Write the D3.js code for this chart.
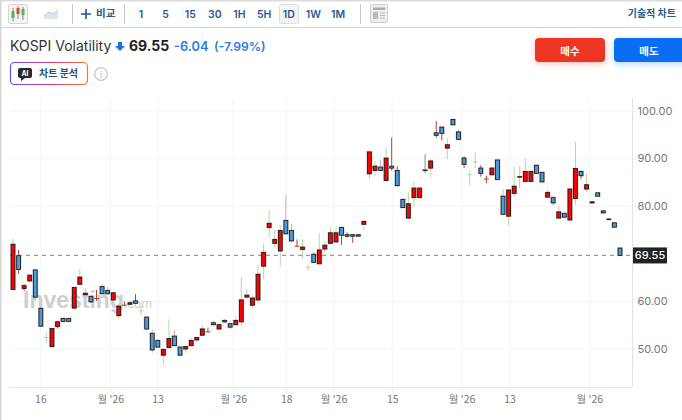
<!DOCTYPE html>
<html>
<head>
<meta charset="utf-8">
<script src="https://cdn.jsdelivr.net/npm/d3@7/dist/d3.min.js"></script>
<style>
body { margin: 0; background: #fff; overflow: hidden; }
text { font-family: "Inter", "Noto Sans CJK KR", sans-serif; }
.kr { font-family: "Noto Sans CJK KR", sans-serif; }
</style>
</head>
<body>
<div id="chart"></div>
<script>
var openVals = [
  62.4,69.5,62.6,64.2,66.5,58.4,52.3,50.4,54.6,56.3,
  56.3,58.5,63.5,61.3,60.9,60.5,63.0,62.2,60.2,56.9,
  59.1,59.3,60.0,57.9,56.6,53.2,51.7,48.6,50.2,52.6,
  50.3,49.9,50.6,51.8,52.8,53.5,55.4,54.1,55.9,55.2,
  55.0,55.6,60.8,59.1,60.2,67.3,75.4,72.1,70.5,76.9,
  74.8,71.5,70.8,67.1,69.8,67.8,70.9,72.1,72.4,75.4,
  73.9,73.9,73.9,76.1,86.7,87.4,88.1,85.3,88.3,87.4,
  81.3,77.4,81.7,81.7,87.4,87.9,95.3,96.5,92.1,98.1,
  95.5,90.0,86.5,89.2,87.9,85.6,86.5,89.6,82.0,77.8,
  82.6,86.0,85.1,85.1,88.5,87.0,81.8,81.7,77.4,78.4,
  77.0,81.5,87.2,83.5,80.6,82.7,78.9,77.1,76.4,71.1];
var closeVals = [
  71.9,66.6,63.2,65.4,60.8,54.7,52.3,54.2,55.6,55.7,
  55.7,62.8,65.0,61.6,59.8,60.5,61.5,61.5,61.7,58.9,
  59.1,59.6,59.5,57.9,54.1,49.7,50.3,49.8,52.1,50.6,
  48.6,50.4,51.7,52.3,54.1,53.5,55.0,55.0,55.6,54.5,
  55.9,60.2,61.2,60.6,65.6,70.2,76.3,72.9,74.8,74.1,
  72.6,71.5,71.3,67.1,68.1,70.7,71.7,74.3,74.3,73.8,
  73.6,73.6,73.6,76.7,91.3,88.3,87.4,90.0,87.9,84.2,
  79.6,80.4,83.7,83.7,87.5,89.4,94.8,95.2,92.8,97.0,
  93.9,88.7,86.5,89.2,86.8,85.6,87.9,85.5,78.2,83.3,
  84.1,86.1,87.2,87.2,86.8,85.0,82.8,80.6,78.7,77.6,
  83.5,87.8,86.3,84.4,80.8,82.0,78.5,77.2,75.5,69.55];
var highVals = [
  73.0,70.7,63.5,65.5,66.8,58.6,53.3,54.2,55.8,56.5,
  56.3,63.0,66.7,62.7,61.2,62.3,63.5,62.9,61.9,59.5,
  59.9,59.8,61.4,58.9,56.6,54.0,51.9,50.1,56.1,53.9,
  50.4,50.5,52.3,52.4,54.9,54.4,55.7,55.2,56.1,55.4,
  56.7,65.0,62.5,61.0,67.6,72.1,79.1,75.0,75.9,82.2,
  76.2,72.9,73.0,67.6,70.3,74.2,72.6,75.5,75.3,75.6,
  74.4,74.0,73.9,76.9,91.3,89.3,89.5,92.1,94.3,88.3,
  81.5,82.8,85.1,83.7,90.8,89.7,97.8,96.6,94.2,98.1,
  95.8,90.4,87.4,91.2,88.5,86.3,88.3,89.6,83.4,83.4,
  88.1,88.3,89.9,87.2,88.5,87.0,83.4,81.9,80.1,78.4,
  83.5,93.4,87.4,86.7,80.9,82.7,79.1,77.3,76.4,71.1];
var lowVals = [
  62.4,65.7,62.1,64.1,60.0,54.6,51.2,50.4,54.2,55.6,
  55.7,58.1,63.3,61.2,59.6,60.0,61.4,61.4,60.0,56.3,
  58.9,59.1,59.4,57.0,54.1,49.1,50.1,46.6,50.1,50.5,
  48.4,49.1,50.5,51.4,52.6,53.4,54.9,54.0,55.4,54.2,
  54.9,54.8,60.6,58.5,60.1,64.5,73.5,71.0,67.2,74.0,
  72.4,71.3,68.8,66.4,68.0,67.8,70.1,72.0,72.3,71.8,
  73.3,72.2,73.6,74.9,85.6,86.2,87.3,85.3,87.4,84.1,
  79.5,77.2,79.7,81.7,86.8,86.1,94.3,93.7,89.8,97.0,
  93.8,87.9,84.2,87.9,86.1,84.7,86.4,85.5,78.1,75.9,
  81.9,83.7,85.0,85.1,86.8,85.0,81.7,80.2,77.4,77.6,
  77.0,80.2,85.6,82.9,80.5,82.0,78.4,76.9,75.5,69.55];
// g = pale green wick, p = pale red, d = dark red, k = grey
var wickKinds = [
  "g","d","d","p","p","d","g","g","d","p",
  "p","g","g","g","d","d","p","p","p","g",
  "d","d","d","g","d","p","g","g","g","p",
  "p","g","g","g","g","d","d","d","d","d",
  "g","g","g","g","g","g","g","g","g","p",
  "p","d","g","g","p","g","g","g","g","d",
  "d","d","d","g","g","g","p","g","d","d",
  "d","g","g","g","k","g","d","d","g","d",
  "d","d","g","g","d","d","g","d","p","g",
  "g","p","g","g","d","d","g","d","g","g",
  "g","g","d","g","d","d","d","d","d","d"];
// 70.00 is covered by the last price tag in the original
var yTicks = [50, 60, 80, 90, 100];
var lastPrice = 69.55;
var xTickPos = [4.92, 17.49, 25.94, 39.55, 49.07, 57.54, 68.1, 80.56, 89.17, 103.5];
var xTickLabels = ["16", "월 '26", "13", "월 '26", "18", "월 '26", "15", "월 '26", "13", "월 '26"];
var intervals = ["1", "5", "15", "30", "1H", "5H", "1D", "1W", "1M"];

var wickColor = { g: "#b4d8a6", p: "#e8a99c", d: "#b8402c", k: "#8a8a8a" };
var width = 682, height = 420;
var plotLeft = 10, plotRight = 632, plotTop = 98, plotBottom = 387;

var svg = d3.select("#chart").append("svg")
    .attr("width", width)
    .attr("height", height)
    .style("display", "block");

var x = d3.scaleLinear().domain([0, 109]).range([13, 620]);
var y = d3.scaleLinear().domain([50, 100]).range([348.5, 110.5]);

// page frame and toolbar
svg.append("rect").attr("x", 0).attr("y", 0).attr("width", 1.5).attr("height", height).attr("fill", "#d4d4d4");
svg.append("rect").attr("x", 0).attr("y", 0).attr("width", width).attr("height", 1.5).attr("fill", "#dcdcdc");
svg.append("rect").attr("x", 0).attr("y", 27).attr("width", width).attr("height", 1.2).attr("fill", "#d8d8d8");

var bar = svg.append("g");
bar.append("rect").attr("x", 8.5).attr("y", 4.5).attr("width", 19).attr("height", 19).attr("rx", 2)
    .attr("fill", "#f3f3f3").attr("stroke", "#d5d5d5");
[[13, 8, 21, 11, 18, "#63b04f"], [18, 6, 19, 8, 14, "#e0443a"], [23, 7, 20, 9, 15, "#63b04f"]].forEach(function (c) {
    bar.append("line").attr("x1", c[0]).attr("x2", c[0]).attr("y1", c[1]).attr("y2", c[2]).attr("stroke", "#888");
    bar.append("rect").attr("x", c[0] - 1.5).attr("y", c[3]).attr("width", 3).attr("height", c[4] - c[3]).attr("fill", c[5]);
});
bar.append("path").attr("d", "M44 19 L44 16 L49 12 L53 14 L58 10 L58 19 Z").attr("fill", "#dbe5ef");
bar.append("path").attr("d", "M44 16 L49 12 L53 14 L58 10").attr("fill", "none").attr("stroke", "#b8c8d8");

[72.5, 124.5, 360.5].forEach(function (sx) {
    bar.append("line").attr("x1", sx).attr("x2", sx).attr("y1", 4).attr("y2", 24).attr("stroke", "#c8c8c8");
});
bar.append("path").attr("d", "M81 14 H91 M86 9 V19").attr("stroke", "#1f5a93").attr("stroke-width", 1.6);
bar.append("text").attr("class", "kr").attr("x", 96).attr("y", 17).attr("font-size", 10.5).attr("font-weight", 700)
    .attr("fill", "#2a5b8c").text("비교");

var intervalX = d3.scalePoint().domain(intervals).range([141, 338]);
bar.append("rect").attr("x", 279.5).attr("y", 4.5).attr("width", 19).attr("height", 19).attr("rx", 2)
    .attr("fill", "#f5f5f5").attr("stroke", "#dcdcdc");
bar.selectAll(".iv").data(intervals).enter().append("text")
    .attr("class", "iv")
    .attr("x", function (d) { return intervalX(d); })
    .attr("y", 18)
    .attr("text-anchor", "middle")
    .attr("font-size", 10.5)
    .attr("font-weight", 600)
    .attr("fill", "#2a5b8c")
    .text(function (d) { return d; });

bar.append("rect").attr("x", 370.5).attr("y", 4.5).attr("width", 17).attr("height", 18).attr("rx", 1.5)
    .attr("fill", "#eee").attr("stroke", "#d0d0d0");
bar.append("rect").attr("x", 373).attr("y", 7.5).attr("width", 12).attr("height", 2.5).attr("fill", "#aaa");
bar.append("rect").attr("x", 373).attr("y", 12).attr("width", 5).attr("height", 7).attr("fill", "#bbb");
bar.append("path").attr("d", "M380 13 H385 M380 15.5 H385 M380 18 H385").attr("stroke", "#bbb");
bar.append("text").attr("class", "kr").attr("x", 676).attr("y", 17).attr("text-anchor", "end").attr("font-size", 10)
    .attr("font-weight", 700).attr("fill", "#2a5b8c").text("기술적 차트");

// title row
var head = svg.append("g");
head.append("text").attr("x", 10).attr("y", 51).attr("font-size", 14).attr("fill", "#333").text("KOSPI Volatility");
head.append("path").attr("d", "M118 42 H122 V46 H125 L120 51 L115 46 H118 Z").attr("fill", "#1f6fd6");
head.append("text").attr("x", 129).attr("y", 51).attr("font-size", 14).attr("font-weight", 700).attr("fill", "#222").text("69.55");
head.append("text").attr("x", 174).attr("y", 51).attr("font-size", 12.8).attr("font-weight", 600).attr("fill", "#2b7be0").text("-6.04");
head.append("text").attr("x", 214).attr("y", 51).attr("font-size", 12.2).attr("font-weight", 600).attr("fill", "#2b7be0").text("(-7.99%)");

var defs = svg.append("defs");
var grad = defs.append("linearGradient").attr("id", "aiGrad").attr("x1", "0%").attr("x2", "100%");
grad.append("stop").attr("offset", "0%").attr("stop-color", "#6a4cf5");
grad.append("stop").attr("offset", "55%").attr("stop-color", "#d63a8a");
grad.append("stop").attr("offset", "100%").attr("stop-color", "#f57a1a");
var shadow = defs.append("filter").attr("id", "btnShadow").attr("x", "-20%").attr("y", "-40%").attr("width", "140%").attr("height", "200%");
shadow.append("feGaussianBlur").attr("stdDeviation", 3);

head.append("rect").attr("x", 10.5).attr("y", 62.5).attr("width", 77).attr("height", 22).attr("rx", 4)
    .attr("fill", "#fff").attr("stroke", "url(#aiGrad)").attr("stroke-width", 1.2);
head.append("path").attr("d", "M20 68 H30 Q32 68 32 70 V76 Q32 78 30 78 H25 L21 81 V78 H20 Q18 78 18 76 V70 Q18 68 20 68 Z").attr("fill", "#2a2a2a");
head.append("text").attr("x", 25).attr("y", 76).attr("text-anchor", "middle").attr("font-size", 7).attr("font-weight", 700).attr("fill", "#fff").text("AI");
head.append("text").attr("class", "kr").attr("x", 39).attr("y", 77).attr("font-size", 10).attr("font-weight", 700).attr("fill", "#25507e").text("차트 분석");
head.append("circle").attr("cx", 101).attr("cy", 74).attr("r", 6.3).attr("fill", "#fff").attr("stroke", "#c4c4c4").attr("stroke-width", 1.2);
head.append("text").attr("x", 101).attr("y", 77.5).attr("text-anchor", "middle").attr("font-size", 9).attr("fill", "#b5b5b5").text("i");

[[535, 70, "#ee3524", "매수"], [614, 74, "#0a6ef5", "매도"]].forEach(function (b) {
    head.append("rect").attr("x", b[0]).attr("y", 40).attr("width", b[1]).attr("height", 24).attr("rx", 4)
        .attr("fill", b[2]).attr("opacity", 0.3).attr("filter", "url(#btnShadow)");
    head.append("rect").attr("x", b[0]).attr("y", 38).attr("width", b[1]).attr("height", 24).attr("rx", 4).attr("fill", b[2]);
    head.append("text").attr("class", "kr").attr("x", b[0] + 35).attr("y", 54.5).attr("text-anchor", "middle")
        .attr("font-size", 10.5).attr("font-weight", 700).attr("fill", "#fff").text(b[3]);
});

// grid
var grid = svg.append("g");
grid.selectAll(".gh").data(yTicks).enter().append("line")
    .attr("x1", plotLeft).attr("x2", plotRight)
    .attr("y1", function (d) { return y(d) + 0.5; })
    .attr("y2", function (d) { return y(d) + 0.5; })
    .attr("stroke", "#f3f4f6");
grid.selectAll(".gv").data(xTickPos).enter().append("line")
    .attr("x1", function (d) { return x(d); })
    .attr("x2", function (d) { return x(d); })
    .attr("y1", plotTop).attr("y2", plotBottom)
    .attr("stroke", "#f3f4f6");

// watermark sits under the candles
var mark = svg.append("text").attr("x", 23).attr("y", 308).attr("fill", "#cfcfcf");
mark.append("tspan").attr("font-family", "Liberation Sans").attr("font-size", 23).attr("font-weight", 700).text("Investing");
mark.append("tspan").attr("font-family", "Liberation Sans").attr("font-size", 13).text(".com");

// axes
var xAxis = d3.axisBottom(x)
    .tickValues(xTickPos)
    .tickSize(5)
    .tickFormat(function (d, i) { return xTickLabels[i]; });
var gx = svg.append("g").attr("transform", "translate(0," + (plotBottom + 0.5) + ")").call(xAxis);
gx.select(".domain").attr("d", "M" + plotLeft + ",0H" + plotRight).attr("stroke", "#e0e6ee");
gx.selectAll("line").attr("stroke", "#e8ecf1");
gx.selectAll("text").attr("class", "kr").attr("y", 8).attr("font-size", 10.5).attr("fill", "#777")
    .attr("dy", "0.71em");

var yAxis = d3.axisRight(y)
    .tickValues(yTicks)
    .tickSize(4)
    .tickFormat(d3.format(".2f"));
var gy = svg.append("g").attr("transform", "translate(" + (plotRight + 0.5) + ",0)").call(yAxis);
gy.select(".domain").attr("d", "M0," + plotTop + "V" + plotBottom).attr("stroke", "#dde3ea");
gy.selectAll("line").attr("stroke", "#e8ecf1");
gy.selectAll("text").attr("x", 5).attr("font-size", 11).attr("font-family", "Roboto").attr("fill", "#777");

// last price line
svg.append("line")
    .attr("x1", plotLeft).attr("x2", plotRight)
    .attr("y1", y(lastPrice)).attr("y2", y(lastPrice))
    .attr("stroke", "#999").attr("stroke-width", 1.3).attr("stroke-dasharray", "4,4");

// candles
var idx = d3.range(openVals.length);
var candle = svg.append("g").selectAll("g").data(idx).enter().append("g");

candle.append("line")
    .attr("x1", function (i) { return x(i); })
    .attr("x2", function (i) { return x(i); })
    .attr("y1", function (i) { return y(highVals[i]); })
    .attr("y2", function (i) { return y(lowVals[i]); })
    .attr("stroke", function (i) { return wickColor[wickKinds[i]]; })
    .attr("stroke-width", 1);

candle.filter(function (i) { return openVals[i] === closeVals[i]; }).append("line")
    .attr("x1", function (i) { return x(i) - 2.5; })
    .attr("x2", function (i) { return x(i) + 2.5; })
    .attr("y1", function (i) { return y(openVals[i]); })
    .attr("y2", function (i) { return y(openVals[i]); })
    .attr("stroke", function (i) { return wickColor[wickKinds[i]]; });

var bodies = candle.filter(function (i) { return openVals[i] !== closeVals[i]; });
bodies.append("rect")
    .attr("x", function (i) { return x(i) - 2.2; })
    .attr("y", function (i) { return y(Math.max(openVals[i], closeVals[i])); })
    .attr("width", 4.4)
    .attr("height", function (i) { return Math.abs(y(openVals[i]) - y(closeVals[i])); })
    .attr("fill", "none")
    .attr("stroke", "#aaa")
    .attr("stroke-width", 1.5)
    .attr("opacity", 0.6);
bodies.append("rect")
    .attr("x", function (i) { return x(i) - 1.9; })
    .attr("y", function (i) { return y(Math.max(openVals[i], closeVals[i])); })
    .attr("width", 3.8)
    .attr("height", function (i) { return Math.abs(y(openVals[i]) - y(closeVals[i])); })
    .attr("fill", function (i) { return closeVals[i] > openVals[i] ? "#ff0000" : "#4a9ad8"; })
    .attr("stroke", "#111")
    .attr("stroke-width", 0.8);

// last price tag
svg.append("rect").attr("x", plotRight + 1).attr("y", y(lastPrice) - 8).attr("width", 34).attr("height", 16).attr("fill", "#222");
svg.append("text").attr("x", plotRight + 18).attr("y", y(lastPrice) + 4).attr("text-anchor", "middle")
    .attr("font-family", "Roboto").attr("font-size", 11).attr("font-weight", 500).attr("fill", "#fff").text(d3.format(".2f")(lastPrice));
</script>
</body>
</html>
